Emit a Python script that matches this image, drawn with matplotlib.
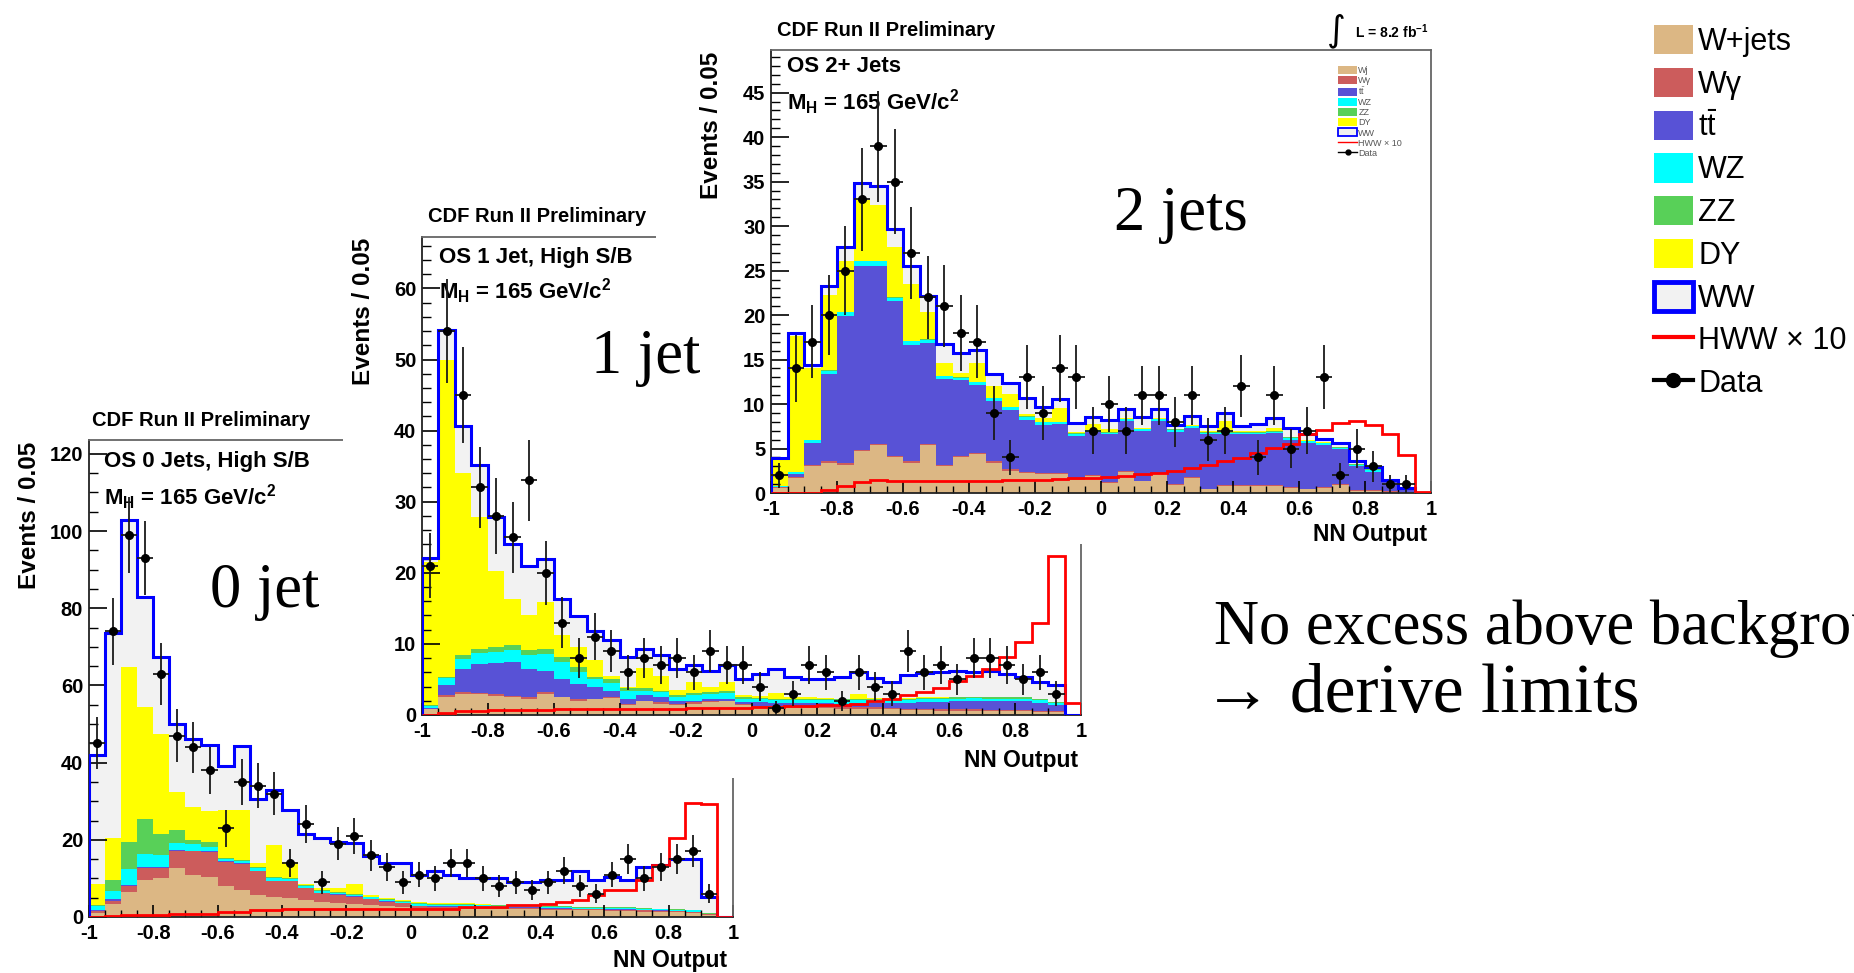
import numpy as np
import matplotlib
matplotlib.use("Agg")
import matplotlib.pyplot as plt
import matplotlib.patches as mpatches
import matplotlib.lines as mlines
from matplotlib.transforms import Affine2D
from matplotlib.ticker import MultipleLocator, FuncFormatter

# ---------- fonts ----------
plt.rcParams.update({
    "font.family": ["Liberation Sans", "DejaVu Sans"],
    "font.weight": "bold",
    "mathtext.fontset": "custom",
    "mathtext.rm": "Liberation Sans:weight=normal",
    "mathtext.bf": "Liberation Sans:weight=bold",
    "mathtext.it": "Liberation Sans:style=italic:weight=normal",
})

W, H = 1854, 973
EDGES = np.linspace(-1, 1, 41)
CENTERS = 0.5 * (EDGES[:-1] + EDGES[1:])

COL_WJ = "#dcb784"
COL_WG = "#cc5c5c"
COL_TT = "#5852d6"
COL_WZ = "#00ffff"
COL_ZZ = "#58d058"
COL_DY = "#ffff00"
COL_WW = "#f2f2f2"

# ---------- 0 jet, high S/B ----------
wj_0 = [1.0, 3.3, 6.5, 9.5, 10.2, 12.6, 11.0, 10.4, 8.0, 7.1, 5.8, 5.3, 4.9, 4.4, 4.0, 3.5, 3.4, 3.1, 2.8, 2.7,
        2.2, 2.2, 2.2, 2.1, 2.1, 2.0, 2.0, 2.0, 1.8, 1.8, 1.7, 1.7, 1.6, 1.6, 1.4, 1.3, 1.2, 1.1, 0.6, 0.0]
wg_0 = [0.5, 0.9, 1.5, 3.2, 2.6, 4.5, 6.0, 6.4, 6.2, 6.6, 6.1, 4.0, 4.4, 3.1, 2.2, 2.3, 1.9, 1.5, 1.2, 0.8,
        0.6, 0.5, 0.5, 0.5, 0.4, 0.4, 0.4, 0.4, 0.4, 0.4, 0.3, 0.3, 0.3, 0.3, 0.3, 0.3, 0.3, 0.2, 0.1, 0.0]
tt_0 = [0.3, 0.5, 0.3, 0.2, 0.2, 0.2, 0.2, 0.2, 0.2, 0.2, 0.1, 0.1, 0.1, 0.1, 0.1, 0.1, 0.1, 0.1, 0.1, 0.1,
        0.1, 0.1, 0.1, 0.1, 0.1, 0.1, 0.1, 0.1, 0.1, 0.1, 0.1, 0.1, 0.1, 0.1, 0.1, 0.1, 0.1, 0.1, 0.05, 0.0]
wz_0 = [1.0, 2.1, 4.2, 3.4, 3.0, 1.9, 1.6, 1.1, 0.6, 0.6, 0.6, 0.6, 0.4, 0.4, 0.4, 0.4, 0.4, 0.4, 0.4, 0.4,
        0.4, 0.4, 0.4, 0.4, 0.4, 0.4, 0.4, 0.3, 0.3, 0.3, 0.3, 0.3, 0.3, 0.3, 0.3, 0.3, 0.3, 0.3, 0.1, 0.0]
zz_0 = [0.2, 2.7, 7.0, 9.0, 5.5, 3.3, 1.2, 1.3, 0.3, 0.3, 0.3, 0.3, 0.2, 0.2, 0.2, 0.2, 0.2, 0.2, 0.2, 0.2,
        0.2, 0.2, 0.2, 0.2, 0.2, 0.2, 0.2, 0.2, 0.2, 0.2, 0.2, 0.2, 0.2, 0.2, 0.2, 0.2, 0.2, 0.2, 0.1, 0.0]
dy_0 = [5.6, 11.0, 45.3, 29.2, 25.8, 9.9, 8.4, 8.0, 12.3, 12.8, 1.1, 8.3, 4.3, 0.4, 0.7, 1.1, 2.5, 0.5, 0.3, 0.2,
        0.5, 0.3, 0.3, 0.2, 0.2, 0.1, 0.1, 0.1, 0.1, 0.1, 0.1, 0.1, 0.0, 0.0, 0.0, 0.0, 0.0, 0.0, 0.0, 0.0]
total_0 = [42.0, 73.5, 103.0, 83.0, 67.5, 50.0, 46.0, 44.5, 39.2, 44.3, 30.7, 33.0, 27.6, 21.6, 20.5, 19.5, 19.2,
           15.7, 14.0, 14.0, 10.8, 11.9, 10.8, 10.0, 10.0, 10.0, 9.1, 9.1, 9.7, 9.7, 11.9, 9.5, 10.4, 9.5, 13.0,
           13.6, 14.9, 14.9, 5.2, 0.0]
hww_0 = [0.1, 0.3, 0.6, 0.6, 0.6, 0.9, 0.9, 0.9, 1.2, 1.2, 1.8, 1.8, 2.0, 2.1, 2.1, 2.1, 2.1, 2.1, 2.1, 2.2,
         2.2, 2.2, 2.2, 2.6, 2.6, 2.6, 3.0, 3.0, 3.3, 3.9, 4.5, 5.6, 7.1, 7.1, 9.5, 13.4, 20.6, 29.6, 29.4, 0.0]
data_0 = [45, 74, 99, 93, 63, 47, 44, 38, 23, 35, 34, 32, 14, 24, 9, 19, 21, 16, 13, 9,
          11, 10, 14, 14, 10, 8, 9, 7, 9, 12, 8, 6, 11, 15, 10, 13, 15, 17, 6, 0]

# ---------- 1 jet, high S/B ----------
wj_1 = [0.8, 2.6, 3.0, 2.9, 2.7, 2.5, 2.3, 3.0, 2.5, 2.0, 2.2, 2.4, 1.4, 1.9, 1.5, 1.4, 1.6, 1.8, 1.9, 1.4,
        1.1, 1.0, 1.0, 1.0, 1.0, 0.9, 0.9, 0.9, 0.8, 0.7, 0.7, 0.6, 0.6, 0.6, 0.5, 0.5, 0.5, 0.4, 0.4, 0.0]
wg_1 = [0.1, 0.2, 0.2, 0.2, 0.2, 0.2, 0.2, 0.2, 0.1, 0.3, 0.1, 0.2, 0.1, 0.1, 0.3, 0.1, 0.2, 0.1, 0.1, 0.1,
        0.2, 0.2, 0.2, 0.2, 0.2, 0.2, 0.2, 0.2, 0.2, 0.2, 0.2, 0.2, 0.2, 0.2, 0.2, 0.2, 0.2, 0.2, 0.1, 0.0]
tt_1 = [0.1, 1.4, 3.3, 4.1, 4.4, 4.7, 4.0, 3.0, 2.4, 2.1, 1.6, 0.8, 0.8, 0.8, 0.7, 0.4, 0.2, 0.4, 0.3, 0.3,
        0.5, 0.5, 0.5, 0.5, 0.5, 0.5, 0.6, 0.6, 0.7, 0.8, 0.9, 1.0, 1.1, 1.2, 1.2, 1.2, 1.2, 1.1, 0.9, 0.0]
wz_1 = [0.3, 1.0, 1.4, 1.5, 1.6, 1.7, 1.9, 2.4, 2.4, 1.6, 1.2, 1.1, 1.1, 0.6, 0.7, 0.6, 0.8, 0.7, 0.8, 0.5,
        0.4, 0.4, 0.4, 0.4, 0.4, 0.4, 0.4, 0.4, 0.4, 0.4, 0.4, 0.4, 0.4, 0.4, 0.4, 0.4, 0.4, 0.4, 0.3, 0.0]
zz_1 = [0.1, 0.1, 0.5, 0.6, 0.7, 0.7, 0.7, 0.7, 0.7, 0.7, 0.3, 0.5, 0.4, 0.4, 0.2, 0.3, 0.3, 0.3, 0.3, 0.3,
        0.2, 0.2, 0.2, 0.2, 0.2, 0.2, 0.2, 0.2, 0.2, 0.2, 0.2, 0.2, 0.2, 0.2, 0.2, 0.2, 0.2, 0.2, 0.1, 0.0]
dy_1 = [20.1, 44.7, 25.7, 18.5, 10.7, 6.5, 5.0, 6.6, 3.1, 2.8, 2.3, 0.5, 0.1, 2.8, 2.1, 0.7, 1.5, 0.6, 1.2, 0.2,
        0.3, 0.8, 0.2, 0.2, 0.1, 0.1, 0.6, 0.1, 0.1, 0.1, 0.1, 0.1, 0.0, 0.0, 0.0, 0.0, 0.0, 0.0, 0.0, 0.0]
total_1 = [22.1, 54.2, 40.7, 35.1, 27.9, 24.0, 20.9, 22.0, 16.3, 13.9, 11.8, 10.6, 8.1, 9.3, 8.5, 6.4, 7.0, 6.2,
           7.1, 5.1, 5.8, 6.4, 5.3, 5.0, 5.0, 5.3, 6.0, 5.2, 4.7, 5.6, 5.9, 6.1, 6.2, 6.0, 6.2, 5.8, 5.3, 4.7,
           4.2, 0.0]
hww_1 = [0.0, 0.3, 0.5, 0.5, 0.7, 0.7, 0.7, 0.7, 0.8, 0.8, 0.8, 0.8, 0.8, 0.8, 0.8, 0.9, 1.0, 1.0, 1.0, 1.0,
         1.1, 1.1, 1.3, 1.3, 1.4, 1.4, 1.6, 1.9, 2.2, 2.8, 3.3, 3.8, 4.8, 5.5, 6.4, 8.2, 10.2, 13.0, 22.3, 1.7]
data_1 = [21, 54, 45, 32, 28, 25, 33, 20, 13, 8, 11, 9, 6, 8, 7, 8, 6, 9, 7, 7,
          4, 1, 3, 7, 6, 2, 6, 4, 3, 9, 6, 7, 5, 8, 8, 7, 5, 6, 3, 0]

# ---------- 2+ jets ----------
wj_2 = [0.6, 1.7, 3.0, 3.4, 3.2, 4.7, 5.4, 4.0, 3.4, 5.4, 3.0, 4.0, 4.4, 3.4, 2.5, 2.2, 2.1, 2.1, 1.5, 1.9,
        1.1, 2.4, 1.3, 2.1, 0.9, 1.7, 0.4, 0.8, 0.8, 0.8, 0.8, 0.6, 0.4, 0.6, 0.9, 0.2, 0.2, 0.1, 0.1, 0.0]
wg_2 = [0.1, 0.15, 0.15, 0.15, 0.15, 0.15, 0.15, 0.15, 0.15, 0.15, 0.15, 0.15, 0.15, 0.15, 0.15, 0.15, 0.15,
        0.15, 0.15, 0.15, 0.1, 0.1, 0.1, 0.1, 0.1, 0.1, 0.1, 0.1, 0.1, 0.1, 0.1, 0.1, 0.1, 0.1, 0.1, 0.1, 0.1,
        0.1, 0.05, 0.0]
tt_2 = [0.0, 0.3, 2.5, 9.8, 16.5, 20.7, 20.0, 17.4, 13.1, 11.3, 9.7, 8.5, 7.6, 6.8, 6.7, 5.9, 5.4, 5.5, 4.8, 4.8,
        5.4, 5.6, 5.6, 5.9, 5.9, 5.5, 6.1, 5.7, 5.7, 5.7, 5.8, 5.3, 5.1, 4.7, 3.9, 2.7, 2.1, 1.1, 0.4, 0.0]
wz_2 = [0.1, 0.2, 0.3, 0.4, 0.5, 0.5, 0.5, 0.4, 0.4, 0.4, 0.3, 0.3, 0.3, 0.3, 0.3, 0.3, 0.3, 0.2, 0.2, 0.2,
        0.2, 0.2, 0.2, 0.2, 0.2, 0.2, 0.2, 0.2, 0.2, 0.2, 0.2, 0.2, 0.2, 0.2, 0.2, 0.2, 0.2, 0.05, 0.02, 0.0]
zz_2 = [0.0, 0.05, 0.05, 0.05, 0.05, 0.05, 0.05, 0.05, 0.05, 0.05, 0.05, 0.05, 0.05, 0.05, 0.05, 0.05, 0.05,
        0.05, 0.05, 0.05, 0.05, 0.05, 0.05, 0.05, 0.05, 0.05, 0.05, 0.05, 0.05, 0.05, 0.05, 0.05, 0.05, 0.05,
        0.05, 0.05, 0.05, 0.0, 0.0, 0.0]
dy_2 = [2.9, 15.3, 8.0, 8.5, 5.7, 6.8, 6.3, 5.6, 6.4, 3.0, 1.4, 0.5, 2.1, 1.3, 1.4, 0.3, 0.4, 1.5, 0.2, 0.7,
        0.3, 0.1, 0.1, 0.1, 0.1, 0.1, 0.1, 1.2, 0.1, 0.1, 0.4, 0.1, 0.1, 0.1, 0.0, 0.0, 0.0, 0.0, 0.0, 0.0]
total_2 = [3.9, 18.0, 14.4, 23.3, 27.6, 34.9, 34.5, 29.7, 25.5, 22.2, 16.8, 15.7, 16.1, 13.4, 12.4, 10.7, 9.7,
           10.6, 7.9, 8.5, 8.2, 9.4, 8.5, 9.4, 7.7, 8.6, 7.5, 9.0, 7.5, 7.8, 8.4, 7.3, 6.6, 6.1, 5.6, 3.6, 2.9,
           1.5, 0.6, 0.0]
hww_2 = [0.0, 0.0, 0.0, 0.3, 0.8, 1.2, 1.5, 1.4, 1.4, 1.4, 1.4, 1.4, 1.4, 1.4, 1.5, 1.5, 1.5, 1.6, 1.7, 1.7,
         1.8, 1.9, 2.1, 2.2, 2.5, 2.8, 3.2, 3.6, 3.9, 4.5, 5.1, 5.5, 6.6, 7.1, 7.9, 8.1, 7.7, 6.6, 4.3, 0.1]
data_2 = [2, 14, 17, 20, 25, 33, 39, 35, 27, 22, 21, 18, 17, 9, 4, 13, 9, 14, 13, 7,
          10, 7, 11, 11, 8, 11, 6, 7, 12, 4, 11, 5, 7, 13, 2, 5, 3, 1, 1, 0]

LEGEND_LABELS = ["W+jets", "W\u03b3", r"t$\bar{\mathrm{t}}$", "WZ", "ZZ", "DY", "WW", "HWW \u00d7 10", "Data"]
MINI_LABELS = ["Wj", "W\u03b3", r"t$\bar{\mathrm{t}}$", "WZ", "ZZ", "DY", "WW", "HWW \u00d7 10", "Data"]

fig = plt.figure(figsize=(W / 100, H / 100), dpi=100)
# pixel coordinates, origin top-left
PIX = Affine2D().scale(1.0 / W, -1.0 / H).translate(0, 1) + fig.transFigure


def tick_fmt(v, pos):
    v = round(v, 3)
    if abs(v) < 1e-9:
        return "0"
    return f"{v:g}"


def draw_panel(box, zorder, wj, wg, tt, wz, zz, dy, total, hww, data, ymax, ymaj, ymin, texts):
    left, right, top, bottom = box
    ax = fig.add_axes([left / W, 1 - bottom / H, (right - left) / W, (bottom - top) / H])
    ax.set_zorder(zorder)
    ax.set_facecolor("white")

    base = np.zeros(len(EDGES) - 1)
    for vals, col in [(wj, COL_WJ), (wg, COL_WG), (tt, COL_TT), (wz, COL_WZ), (zz, COL_ZZ), (dy, COL_DY)]:
        up = base + np.asarray(vals)
        ax.stairs(up, EDGES, baseline=base, fill=True, color=col, lw=0, zorder=1)
        base = up
    ax.stairs(np.asarray(total), EDGES, baseline=base, fill=True, color=COL_WW, lw=0, zorder=1)
    ax.stairs(np.asarray(total), EDGES, color="#0000ff", lw=2.2, zorder=3)
    ax.stairs(np.asarray(hww), EDGES, color="#ff0000", lw=2.0, zorder=4)

    d = np.asarray(data, dtype=float)
    m = d > 0
    ax.errorbar(CENTERS[m], d[m], xerr=0.025, yerr=np.sqrt(d[m]), fmt="o", ms=5.5,
                color="black", ecolor="#1a1a1a", elinewidth=1.3, capsize=0, zorder=5)

    ax.set_xlim(-1, 1)
    ax.set_ylim(0, ymax)
    ax.xaxis.set_major_locator(MultipleLocator(0.2))
    ax.xaxis.set_minor_locator(MultipleLocator(0.05))
    ax.yaxis.set_major_locator(MultipleLocator(ymaj))
    ax.yaxis.set_minor_locator(MultipleLocator(ymin))
    ax.xaxis.set_major_formatter(FuncFormatter(tick_fmt))
    ax.yaxis.set_major_formatter(FuncFormatter(tick_fmt))
    ax.tick_params(axis="x", which="major", direction="in", length=9, width=1.2, labelsize=14.5, pad=5)
    ax.tick_params(axis="x", which="minor", direction="in", length=5, width=1.0)
    ax.tick_params(axis="y", which="major", direction="in", length=13, width=1.2, labelsize=14.5, pad=4)
    ax.tick_params(axis="y", which="minor", direction="in", length=6.5, width=1.0)
    for s in ["left", "bottom"]:
        ax.spines[s].set_color("#222222")
        ax.spines[s].set_linewidth(1.3)
    for s in ["top", "right"]:
        ax.spines[s].set_color("#666666")
        ax.spines[s].set_linewidth(1.3)

    (tx, ty), (ox, oy, os_text), (mx, my), (yx, yy), (nx, ny) = texts
    ax.text(tx, ty, "CDF Run II Preliminary", transform=PIX, fontsize=14.5, va="center", ha="left")
    ax.text(ox, oy, os_text, transform=PIX, fontsize=16, va="center", ha="left")
    ax.text(mx, my, r"M$_\mathbf{H}$ = 165 GeV/c$^\mathbf{2}$", transform=PIX, fontsize=16,
            va="center", ha="left")
    ax.text(yx, yy, "Events / 0.05", transform=PIX, fontsize=17.5, rotation=90, va="top", ha="center")
    ax.text(nx, ny, "NN Output", transform=PIX, fontsize=16.5, va="center", ha="right")
    return ax


def cover(x0, y0, x1, y1, zorder):
    fig.add_artist(mpatches.Rectangle((x0, y0), x1 - x0, y1 - y0, transform=PIX,
                                      facecolor="white", edgecolor="none", zorder=zorder))


ax0 = draw_panel((88.7, 733, 440, 917), 1, wj_0, wg_0, tt_0, wz_0, zz_0, dy_0, total_0, hww_0, data_0,
                 123.6, 20, 5,
                 [(92, 420), (104, 461, "OS 0 Jets, High S/B"), (104, 497), (30, 442), (727, 960)])
cover(343, 195, 1100, 778, 2)
ax1 = draw_panel((422, 1081, 236.5, 715), 3, wj_1, wg_1, tt_1, wz_1, zz_1, dy_1, total_1, hww_1, data_1,
                 67.3, 10, 2,
                 [(428, 216), (439, 258, "OS 1 Jet, High S/B"), (439, 291), (364, 238), (1078, 760)])
cover(656, 0, 1460, 544, 4)
ax2 = draw_panel((771, 1431, 50, 493), 5, wj_2, wg_2, tt_2, wz_2, zz_2, dy_2, total_2, hww_2, data_2,
                 49.8, 5, 1,
                 [(777, 30), (787, 67, "OS 2+ Jets"), (787, 102), (712, 52), (1427, 534)])

ax2.text(1336, 31, "\u222b", transform=PIX, fontsize=26, family="DejaVu Sans", weight="normal",
         ha="center", va="center")
ax2.text(1428, 38, r"L = 8.2 fb$^\mathbf{-1}$", transform=PIX, fontsize=10, ha="right", va="baseline")


def legend_handles(lw_ww, lw_line, ms):
    h = [mpatches.Patch(facecolor=c, edgecolor="none") for c in [COL_WJ, COL_WG, COL_TT, COL_WZ, COL_ZZ, COL_DY]]
    h.append(mpatches.Patch(facecolor=COL_WW, edgecolor="#0000ff", lw=lw_ww))
    h.append(mlines.Line2D([], [], color="#ff0000", lw=lw_line))
    h.append(mlines.Line2D([], [], color="black", lw=lw_line, marker="o", ms=ms))
    return h


ax2.legend(legend_handles(1.3, 1.0, 3.5), MINI_LABELS, loc="upper left", bbox_to_anchor=(0.853, 0.975),
           frameon=False, prop={"size": 6.5, "weight": "normal"}, labelcolor="#555555",
           handlelength=2.0, handleheight=1.0, labelspacing=0.1, handletextpad=0.2, borderpad=0)

leg = fig.legend(legend_handles(3.5, 3.0, 10), LEGEND_LABELS, loc="upper left",
                 bbox_to_anchor=(1654 / W, 1 - 25 / H), frameon=False,
                 prop={"size": 22, "weight": "normal"}, handlelength=1.27, handleheight=1.1,
                 labelspacing=0.35, handletextpad=0.18, borderpad=0, borderaxespad=0)
leg.set_zorder(10)

serif = ["Liberation Serif", "DejaVu Serif"]
for x, y, s, fs in [(210, 607, "0 jet", 45), (591, 373, "1 jet", 45), (1114, 230, "2 jets", 45),
                    (1214, 644, "No excess above background", 45),
                    (1203, 712, "\u2192 derive limits", 50)]:
    fig.text(x, y, s, transform=PIX, fontsize=fs, family=serif, weight="normal",
             ha="left", va="baseline", zorder=10)

fig.savefig("out.png", dpi=100)
